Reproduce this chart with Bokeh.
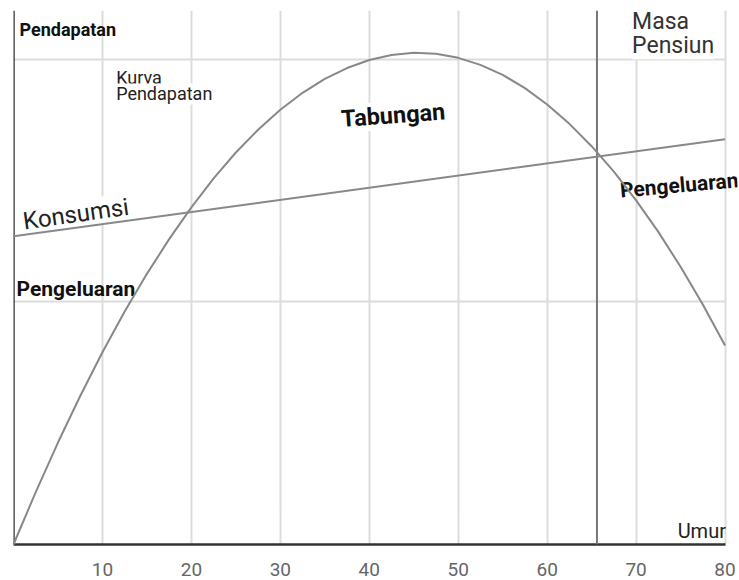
from bokeh.plotting import figure
from bokeh.models import Range1d, FixedTicker, Span, Label
from bokeh.embed import file_html
from bokeh.resources import INLINE

# ---- data ----
ages = [0, 2.5, 5, 7.5, 10, 12.5, 15, 17.5, 20, 22.5, 25, 27.5, 30, 32.5, 35, 37.5, 40,
        42.5, 45, 47.5, 50, 52.5, 55, 57.5, 60, 62.5, 65, 67.5, 70, 72.5, 75, 77.5, 80]
income = [0, 21.6, 42, 61.2, 79.2, 96, 111.5, 125.8, 138.9, 150.8, 161.5, 170.9, 179.1,
          186.1, 191.8, 196.3, 199.6, 201.7, 202.6, 202.2, 200.5, 197.6, 193.5, 188,
          181.3, 173.3, 164.1, 153.6, 141.8, 128.8, 114.4, 98.9, 82]
consumption_ages = [0, 80]
consumption = [127, 167]
retirement_age = 65.6
x_ticks = [10, 20, 30, 40, 50, 60, 70, 80]
y_grid = [100, 200]

p = figure(width=739, height=580, output_backend="svg", toolbar_location=None,
           x_range=Range1d(0, 81.4), y_range=Range1d(0, 220),
           min_border_left=13, min_border_right=2, min_border_top=10, min_border_bottom=36)
p.outline_line_color = None
p.background_fill_color = "white"

# grids
p.xgrid.ticker = FixedTicker(ticks=x_ticks)
p.ygrid.ticker = FixedTicker(ticks=y_grid)
for g in (p.xgrid, p.ygrid):
    g.grid_line_color = "#dcdcdc"
    g.grid_line_width = 2
yg = p.ygrid[0]
if "cross_bounds" in yg.properties():
    yg.cross_bounds = (0, 80)

# axes
p.yaxis.visible = False
xa = p.xaxis[0]
xa.ticker = FixedTicker(ticks=x_ticks)
xa.bounds = (0, 80)
xa.axis_line_color = "#333333"
xa.axis_line_width = 2.5
xa.major_tick_out = 0
xa.major_tick_in = 0
xa.minor_tick_out = 0
xa.minor_tick_in = 0
xa.major_label_standoff = 18
xa.major_label_text_font = "Roboto"
xa.major_label_text_font_size = "19px"
xa.major_label_text_color = "#666666"

p.add_layout(Span(location=0, dimension="height", line_color="#333333", line_width=2.5))
p.add_layout(Span(location=retirement_age, dimension="height", line_color="#777777", line_width=2))

# curves (kept above the text boxes)
p.line(ages, income, line_color="#888888", line_width=2, level="overlay")
p.line(consumption_ages, consumption, line_color="#888888", line_width=2, level="overlay")


def label(x, y, t, size, bold=False, angle=0, color="#111111", align="left", bg=False):
    kw = {}
    if bg:
        kw = dict(background_fill_color="white", background_fill_alpha=1.0)
    p.add_layout(Label(x=x, y=y, text=t, angle=angle, angle_units="deg",
                       text_font="Roboto", text_font_size=size,
                       text_font_style="bold" if bold else "normal",
                       text_color=color, text_align=align, text_baseline="alphabetic", **kw))


label(0.67, 212.3, "Pendapatan", "18px", bold=True)
label(11.54, 192.5, "Kurva", "18px", color="#222222", bg=True)
label(11.54, 185.6, "Pendapatan", "18px", color="#222222", bg=True)
label(36.85, 175.3, "Tabungan", "23.5px", bold=True, angle=4.2, bg=True)
label(1.09, 133.0, "Konsumsi", "24px", angle=8.1, color="#222222", bg=True)
label(0.34, 105.4, "Pengeluaran", "21px", bold=True)
label(68.2, 145.8, "Pengeluaran", "21px", bold=True, angle=5)
label(69.55, 215.6, "Masa", "23px", color="#333333", bg=True)
label(69.55, 205.5, "Pensiun", "23px", color="#333333", bg=True)
label(80.1, 5.4, "Umur", "20px", color="#222222", align="right")

open("out.html", "w").write(file_html(p, INLINE))
